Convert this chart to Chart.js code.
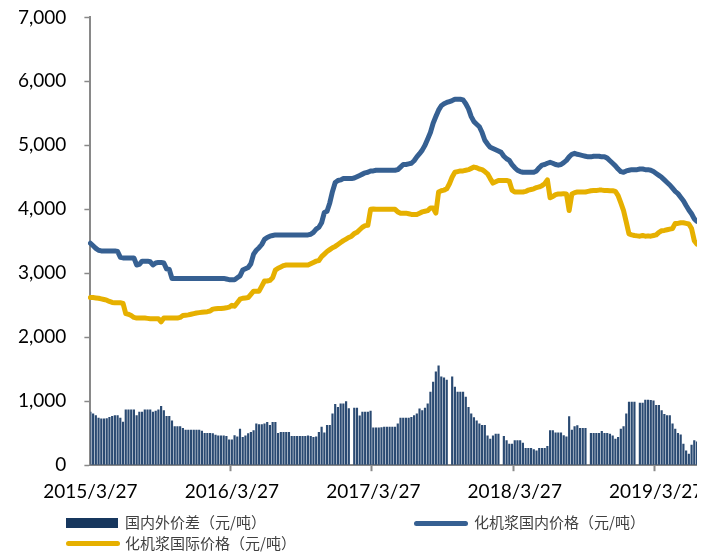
<!DOCTYPE html>
<html>
<head>
<meta charset="utf-8">
<script src="https://cdn.jsdelivr.net/npm/chart.js@4/dist/chart.umd.min.js"></script>
<style>
  html, body { margin: 0; padding: 0; background: #fff; width: 713px; height: 554px; overflow: hidden; }
  #clip { position: absolute; left: 0; top: -12px; width: 697px; height: 524px; overflow: hidden; }
  #wrap { position: absolute; left: 0; top: 0; width: 706px; height: 524px; }
  .lg { position: absolute; font-family: "Noto Sans CJK SC", sans-serif; font-size: 15px; color: #404040; white-space: nowrap; line-height: 20px; }
  .sw { position: absolute; }
</style>
</head>
<body>
<div id="clip"><div id="wrap"><canvas id="chart"></canvas></div></div>

<div class="sw" style="left:66px;top:518px;width:52px;height:10px;background:#17375E;"></div>
<div class="lg" style="left:125px;top:512px;">国内外价差（元/吨）</div>
<div class="sw" style="left:414px;top:521px;width:54px;height:5px;border-radius:3px;background:#366092;"></div>
<div class="lg" style="left:474px;top:512px;">化机浆国内价格（元/吨）</div>
<div class="sw" style="left:66px;top:541px;width:54px;height:5px;border-radius:3px;background:#E6B000;"></div>
<div class="lg" style="left:125px;top:533px;">化机浆国际价格（元/吨）</div>

<script>
// weekly data from 2015/3/27
var tickLabels = ['2015/3/27', '2016/3/27', '2017/3/27', '2018/3/27', '2019/3/27'];

var domestic = [
  3470,3430,3390,3360,3350,3350,3350,3350,3350,3350,3340,3250,3240,3240,3240,3240,
  3240,3130,3140,3190,3190,3190,3180,3130,3160,3170,3170,3160,3070,3060,2920,2920,
  2920,2920,2920,2920,2920,2920,2920,2920,2920,2920,2920,2920,2920,2920,2920,2920,
  2920,2920,2910,2900,2900,2900,2930,2960,3050,3070,3090,3150,3300,3360,3400,3450,
  3530,3560,3580,3590,3600,3600,3600,3600,3600,3600,3600,3600,3600,3600,3600,3600,
  3600,3610,3640,3690,3720,3790,3950,3970,4100,4280,4420,4450,4460,4480,4480,4480,
  4480,4490,4510,4530,4550,4570,4580,4600,4600,4610,4610,4610,4610,4610,4610,4610,
  4610,4620,4660,4700,4700,4710,4720,4760,4820,4870,4925,5000,5100,5200,5345,5450,
  5550,5620,5650,5670,5685,5700,5720,5720,5720,5710,5650,5570,5450,5370,5330,5290,
  5200,5080,5020,4970,4950,4930,4910,4890,4830,4790,4765,4700,4650,4610,4590,4580,
  4580,4580,4580,4580,4600,4650,4690,4700,4720,4735,4720,4700,4690,4700,4730,4765,
  4820,4860,4875,4860,4850,4840,4830,4820,4820,4830,4830,4830,4820,4820,4800,4760,
  4720,4680,4630,4590,4580,4600,4610,4620,4620,4620,4630,4630,4620,4620,4610,4590,
  4560,4530,4500,4460,4420,4380,4330,4280,4245,4190,4135,4060,3990,3930,3850,3810
];

var international = [
  2620,2620,2615,2610,2600,2590,2580,2560,2545,2540,2540,2540,2530,2370,2360,2340,
  2310,2300,2300,2300,2300,2295,2290,2290,2290,2290,2240,2300,2300,2300,2300,2300,
  2300,2310,2340,2345,2350,2360,2370,2380,2385,2390,2395,2400,2410,2440,2445,2450,
  2450,2455,2460,2470,2500,2485,2540,2595,2610,2615,2620,2670,2720,2720,2720,2800,
  2880,2880,2890,2930,3050,3080,3100,3120,3130,3130,3130,3130,3130,3130,3130,3130,
  3130,3150,3170,3190,3200,3260,3300,3340,3370,3400,3420,3450,3480,3510,3535,3560,
  3580,3620,3640,3680,3720,3745,3750,4000,4005,4000,4000,4000,4000,4000,4000,4000,
  4000,3960,3940,3940,3940,3930,3920,3920,3920,3940,3960,3970,3980,4020,4020,3940,
  4270,4290,4300,4320,4400,4505,4580,4590,4600,4600,4610,4620,4640,4660,4650,4630,
  4620,4590,4555,4480,4410,4430,4450,4450,4450,4450,4440,4300,4270,4270,4270,4270,
  4280,4300,4310,4320,4340,4350,4370,4400,4460,4180,4200,4230,4240,4240,4245,4240,
  3980,4240,4260,4270,4270,4270,4270,4280,4290,4295,4295,4300,4300,4295,4295,4290,
  4290,4280,4215,4100,3980,3800,3615,3600,3590,3585,3580,3590,3580,3585,3580,3590,
  3600,3640,3665,3670,3680,3690,3700,3780,3780,3790,3790,3780,3770,3700,3510,3455
];

var spread = [
  835,810,780,740,730,730,735,755,770,780,780,740,680,870,870,870,
  870,780,835,835,870,870,870,835,850,870,925,860,770,770,700,610,
  610,610,580,555,555,555,555,555,555,540,505,505,505,500,475,465,
  465,465,455,400,400,470,450,570,440,465,500,520,548,650,640,640,
  650,675,630,675,675,505,520,520,520,520,455,455,455,455,455,455,
  465,455,440,450,520,600,510,630,630,810,955,910,965,965,1000,890,
  null,900,900,775,835,835,835,850,590,590,590,595,600,600,600,600,
  600,650,740,740,740,740,755,780,810,885,860,900,965,1150,1305,1465,
  1560,1385,1370,1335,null,1385,1225,1150,1150,1150,1070,910,810,750,700,650,
  630,630,465,415,465,490,490,null,455,390,335,335,390,390,390,350,
  270,270,270,250,230,270,270,270,300,545,545,510,510,510,470,450,
  765,555,610,625,580,580,580,null,505,505,505,505,535,505,505,490,
  465,415,440,570,610,810,990,990,990,null,975,975,1025,1025,1020,1010,
  940,940,860,800,780,780,650,570,505,480,335,230,180,320,390,370
];

// weekly categories
var weeks = [];
var d0 = new Date(2015, 2, 27);
for (var i = 0; i < domestic.length; i++) {
  var d = new Date(d0.getTime() + i * 7 * 86400000);
  weeks.push(d.getFullYear() + '/' + (d.getMonth() + 1) + '/' + d.getDate());
}

var axisGray = '#898989';
var tickFont = { family: 'Lato', size: 19 };

new Chart(document.getElementById('chart'), {
  type: 'bar',
  data: {
    labels: weeks,
    datasets: [{
      type: 'line',
      label: '化机浆国内价格（元/吨）',
      data: domestic,
      borderColor: '#366092',
      borderWidth: 5,
      pointRadius: 0,
      tension: 0,
      borderJoinStyle: 'round',
      borderCapStyle: 'round',
      order: 1
    }, {
      type: 'line',
      label: '化机浆国际价格（元/吨）',
      data: international,
      borderColor: '#E6B000',
      borderWidth: 5,
      pointRadius: 0,
      tension: 0,
      borderJoinStyle: 'round',
      borderCapStyle: 'round',
      order: 2
    }, {
      label: '国内外价差（元/吨）',
      data: spread,
      backgroundColor: '#2A4A72',
      barPercentage: 0.8,
      categoryPercentage: 1.0,
      order: 3
    }]
  },
  options: {
    responsive: true,
    maintainAspectRatio: false,
    animation: false,
    layout: { padding: { top: 8, right: 0, left: 0, bottom: 0 } },
    plugins: {
      legend: { display: false },
      tooltip: { enabled: false }
    },
    scales: {
      x: {
        offset: false,
        border: { display: true, color: axisGray, width: 2 },
        grid: {
          drawOnChartArea: false,
          drawTicks: true,
          tickLength: 6,
          tickWidth: 2,
          tickColor: function (ctx) { return ctx.index % 52 === 0 ? axisGray : 'rgba(0,0,0,0)'; }
        },
        ticks: {
          autoSkip: false,
          maxRotation: 0,
          minRotation: 0,
          padding: 9,
          color: '#000',
          font: tickFont,
          callback: function (v, i) { return i % 52 === 0 ? tickLabels[i / 52] : ''; }
        }
      },
      y: {
        min: 0,
        max: 7000,
        border: { display: true, color: axisGray, width: 2 },
        grid: {
          drawOnChartArea: false,
          drawTicks: true,
          tickLength: 6,
          tickWidth: 1.5,
          tickColor: axisGray
        },
        ticks: {
          stepSize: 1000,
          padding: 18,
          color: '#000',
          font: tickFont,
          callback: function (v) { return v.toLocaleString('en-US'); }
        }
      }
    }
  }
});
</script>
</body>
</html>
